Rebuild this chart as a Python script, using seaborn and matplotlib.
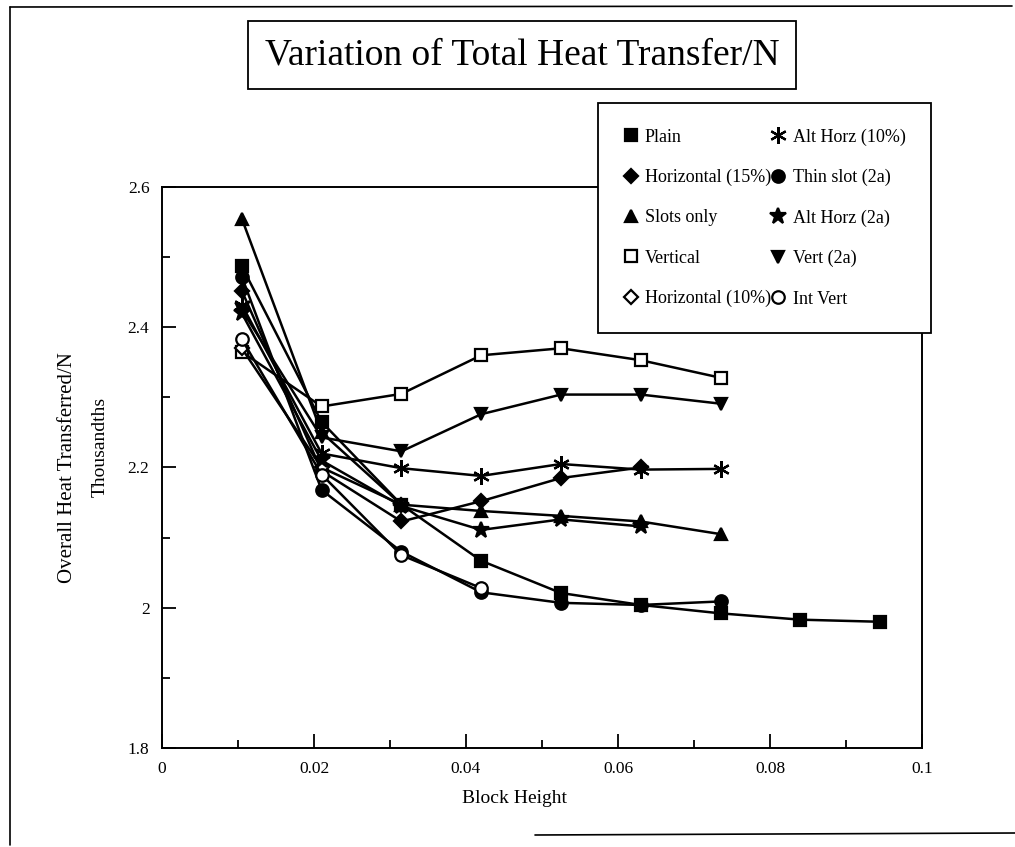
import matplotlib
matplotlib.use("Agg")
import matplotlib.pyplot as plt
from matplotlib.lines import Line2D
from matplotlib.ticker import MultipleLocator, FuncFormatter
import pandas as pd
import seaborn as sns

# Block heights at which each configuration was evaluated
block_height = [0.0105, 0.021, 0.0315, 0.042, 0.0525, 0.063, 0.0735, 0.084, 0.0945]

# Overall heat transferred per N (thousandths) for each configuration
plain = [2.487, 2.265, 2.147, 2.067, 2.021, 2.004, 1.992, 1.983, 1.980]
horizontal_15 = [2.452, 2.195, 2.123, 2.152, 2.185, 2.200]
slots_only = [2.555, 2.250, 2.147, 2.138, 2.131, 2.123, 2.105]
vertical = [2.365, 2.287, 2.305, 2.360, 2.370, 2.353, 2.328]
horizontal_10 = [2.370, 2.200, 2.147]
alt_horz_10 = [2.432, 2.220, 2.199, 2.188, 2.205, 2.197, 2.198]
thin_slot_2a = [2.472, 2.168, 2.080, 2.022, 2.007, 2.004, 2.009]
alt_horz_2a = [2.420, 2.210, 2.145, 2.111, 2.126, 2.116]
vert_2a = [2.425, 2.243, 2.223, 2.276, 2.304, 2.304, 2.291]
int_vert = [2.383, 2.190, 2.075, 2.028]

series_names = ["Plain", "Horizontal (15%)", "Slots only", "Vertical",
                "Horizontal (10%)", "Alt Horz (10%)", "Thin slot (2a)",
                "Alt Horz (2a)", "Vert (2a)", "Int Vert"]
series_values = [plain, horizontal_15, slots_only, vertical, horizontal_10,
                 alt_horz_10, thin_slot_2a, alt_horz_2a, vert_2a, int_vert]

# marker, face colour, size for each configuration
styles = {
    "Plain": ("s", "black", 9),
    "Horizontal (15%)": ("D", "black", 7.5),
    "Slots only": ("^", "black", 9),
    "Vertical": ("s", "white", 9),
    "Horizontal (10%)": ("D", "white", 7.5),
    "Alt Horz (10%)": ((6, 2, 0), "black", 12),
    "Thin slot (2a)": ("o", "black", 9),
    "Alt Horz (2a)": ("*", "black", 12),
    "Vert (2a)": ("v", "black", 9),
    "Int Vert": ("o", "white", 9),
}

rows = []
for name, vals in zip(series_names, series_values):
    for x, y in zip(block_height, vals):
        rows.append({"config": name, "block_height": x, "heat": y})
df = pd.DataFrame(rows)

sns.set_style("white")
plt.rcParams["font.family"] = ["Liberation Serif", "DejaVu Serif"]
plt.rcParams["text.color"] = "black"
plt.rcParams["axes.labelcolor"] = "black"
plt.rcParams["xtick.color"] = "black"
plt.rcParams["ytick.color"] = "black"

fig = plt.figure(figsize=(10.15, 8.47), dpi=100)
ax = fig.add_axes([162 / 1015, 1 - 748 / 847, 760 / 1015, 561 / 847])

for name in series_names:
    sub = df[df["config"] == name]
    m, fc, ms = styles[name]
    sns.lineplot(data=sub, x="block_height", y="heat", ax=ax, color="black",
                 lw=1.8, marker=m, markersize=ms, markerfacecolor=fc,
                 markeredgecolor="black", markeredgewidth=1.6,
                 sort=False, legend=False, zorder=3)

ax.set_xlim(0, 0.1)
ax.set_ylim(1.8, 2.6)
ax.xaxis.set_major_locator(MultipleLocator(0.02))
ax.xaxis.set_minor_locator(MultipleLocator(0.01))
ax.yaxis.set_major_locator(MultipleLocator(0.2))
ax.yaxis.set_minor_locator(MultipleLocator(0.1))
fmt = FuncFormatter(lambda v, p: f"{v:g}")
ax.xaxis.set_major_formatter(fmt)
ax.yaxis.set_major_formatter(fmt)
ax.tick_params(which="both", direction="in", top=False, right=False,
               left=True, bottom=True, width=1.3, colors="black",
               labelsize=12.5)
ax.tick_params(which="major", length=10, pad=9)
ax.tick_params(which="minor", length=6)
for s in ax.spines.values():
    s.set_visible(True)
    s.set_color("black")
    s.set_linewidth(1.4)
ax.set_xlabel("")
ax.set_ylabel("")
ax.grid(False)

fig.text(515 / 1015, 1 - 798 / 847, "Block Height", ha="center", va="center",
         fontsize=14)
fig.text(68 / 1015, 1 - 468 / 847, "Overall Heat Transferred/N", rotation=90,
         ha="center", va="center", fontsize=15)
fig.text(100 / 1015, 1 - 447 / 847, "Thousandths", rotation=90,
         ha="center", va="center", fontsize=14)

# Title in a framed box
fig.text(522 / 1015, 1 - 55 / 847, "Variation of Total Heat Transfer/N",
         ha="center", va="center", fontsize=27,
         bbox=dict(boxstyle="square,pad=0.45", fc="white", ec="black", lw=1.3))

# Legend: markers only, two columns
handles = []
for name in series_names:
    m, fc, ms = styles[name]
    handles.append(Line2D([], [], linestyle="none", marker=m, markersize=ms,
                          markerfacecolor=fc, markeredgecolor="black",
                          markeredgewidth=1.6, color="black"))
leg = fig.legend(handles, series_names, ncol=2, loc="upper left",
                 bbox_to_anchor=(598 / 1015, 1 - 103 / 847),
                 borderaxespad=0.0, frameon=True, fancybox=False,
                 framealpha=1.0, fontsize=13,
                 handlelength=0.8, handletextpad=0.4, columnspacing=0.0,
                 labelspacing=1.29, borderpad=1.4)
leg.get_frame().set_edgecolor("black")
leg.get_frame().set_facecolor("white")
leg.get_frame().set_linewidth(1.3)
leg.set_zorder(10)

# Page border
fig.add_artist(Line2D([10 / 1015, 1012 / 1015], [1 - 7 / 847, 1 - 6 / 847],
                      color="black", lw=1.2))
fig.add_artist(Line2D([10 / 1015, 10 / 1015], [1 - 7 / 847, 1 - 845 / 847],
                      color="black", lw=1.2))
fig.add_artist(Line2D([535 / 1015, 1015 / 1015], [1 - 835 / 847, 1 - 833 / 847],
                      color="black", lw=1.2))

fig.savefig("out.png", dpi=100, facecolor="white")
